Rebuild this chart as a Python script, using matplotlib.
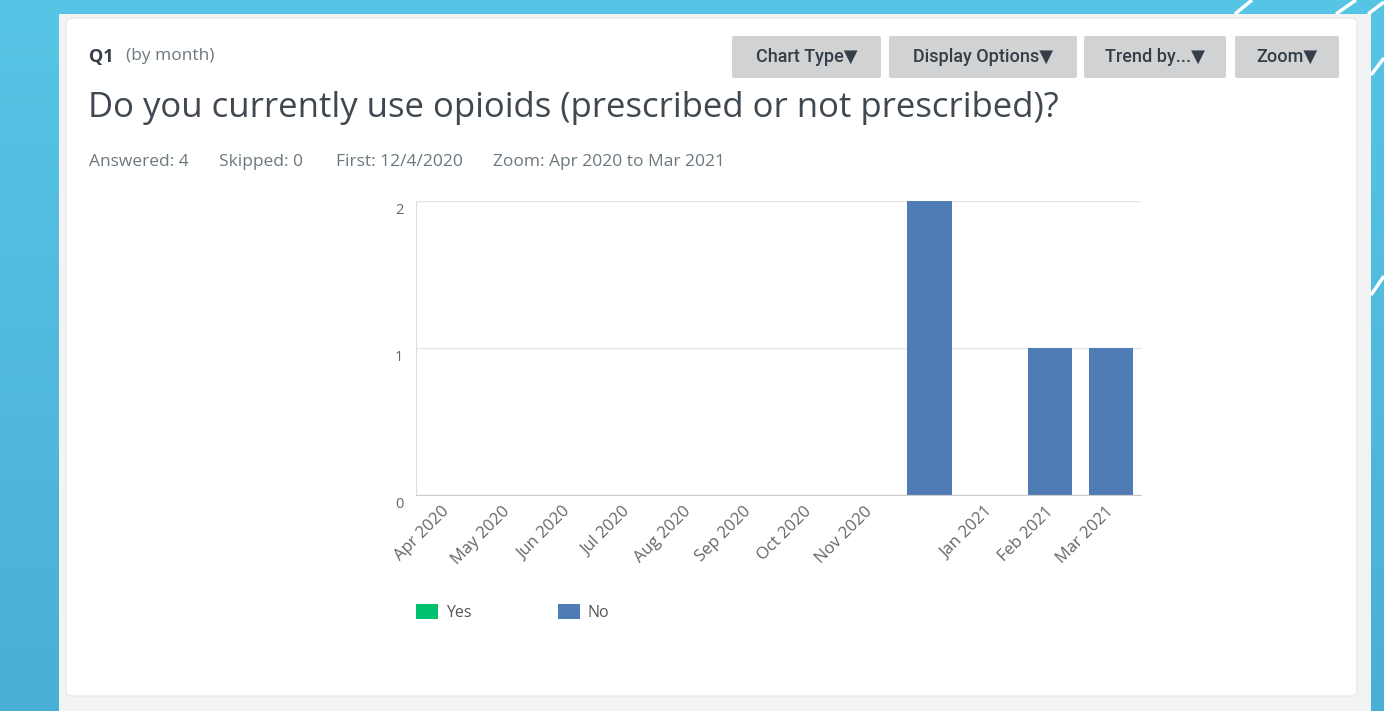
import numpy as np
import matplotlib.pyplot as plt
from matplotlib.patches import FancyBboxPatch, Rectangle, Patch
from matplotlib.transforms import ScaledTranslation

# Data
months = ['Apr 2020', 'May 2020', 'Jun 2020', 'Jul 2020', 'Aug 2020', 'Sep 2020',
          'Oct 2020', 'Nov 2020', 'Dec 2020', 'Jan 2021', 'Feb 2021', 'Mar 2021']
tick_labels = ['Apr 2020', 'May 2020', 'Jun 2020', 'Jul 2020', 'Aug 2020', 'Sep 2020',
               'Oct 2020', 'Nov 2020', '', 'Jan 2021', 'Feb 2021', 'Mar 2021']
yes_counts = [0, 0, 0, 0, 0, 0, 0, 0, 0, 0, 0, 0]
no_counts = [0, 0, 0, 0, 0, 0, 0, 0, 2, 0, 1, 1]
series_names = ['Yes', 'No']
series_colors = ['#00bf6f', '#507cb6']
buttons = ['Chart Type', 'Display Options', 'Trend by...', 'Zoom']

W, H = 1384, 711
fig = plt.figure(figsize=(W / 100, H / 100), dpi=100)
fig.patch.set_facecolor('#55c3e3')

# page background, drawn in pixel coordinates
bg = fig.add_axes([0, 0, 1, 1], zorder=-1)
bg.set_xlim(0, W)
bg.set_ylim(H, 0)
bg.axis('off')
grad = np.linspace(0, 1, 256).reshape(-1, 1)
bg.imshow(grad, extent=(0, W, H, 0), aspect='auto',
          cmap=plt.matplotlib.colors.LinearSegmentedColormap.from_list('bgc', ['#57c5e5', '#4aafd6']))
for (x0, y0, x1, y1) in [(1235, 14, 1252, 0), (1336, 14, 1356, 0), (1368, 14, 1384, 2),
                         (1371, 75, 1384, 58), (1371, 295, 1384, 276)]:
    bg.plot([x0, x1], [y0, y1], color='white', lw=2.5, solid_capstyle='butt')
bg.add_patch(Rectangle((59, 14), 1312, 700, facecolor='#f2f3f3', edgecolor='none'))
bg.add_patch(FancyBboxPatch((66, 18), 1291, 678, boxstyle='round,pad=0,rounding_size=6',
                            facecolor='white', edgecolor='#e9eaea', lw=1))

# header
dark = '#333e48'
grey = '#6b787f'
font = 'Open Sans'
bg.text(89, 57, 'Q1', fontsize=13, fontweight='bold', color=dark, family=font, va='center')
bg.text(126, 56, '(by month)', fontsize=12.5, color=grey, family=font, va='center')
bg.text(88, 108, 'Do you currently use opioids (prescribed or not prescribed)?',
        fontsize=25, color='#3f4850', family=font, va='center')
for x, s in [(89, 'Answered: 4'), (219, 'Skipped: 0'), (336, 'First: 12/4/2020'),
             (493, 'Zoom: Apr 2020 to Mar 2021')]:
    bg.text(x, 162, s, fontsize=12.5, color=grey, family=font, va='center')

# buttons
for (x0, x1), label in zip([(732, 881), (889, 1077), (1084, 1226), (1235, 1339)], buttons):
    bg.add_patch(FancyBboxPatch((x0, 36), x1 - x0, 42, boxstyle='round,pad=0,rounding_size=2',
                                facecolor='#d1d2d4', edgecolor='none'))
    bg.text((x0 + x1) / 2, 57, label + '\u25BC', fontsize=13, color=dark, fontweight='medium',
            family=['Roboto', 'DejaVu Sans'], ha='center', va='center')

# chart
ax = fig.add_axes([416 / W, (H - 495) / H, 725 / W, 294 / H])
x = np.arange(len(months))
ax.bar(x, yes_counts, width=0.73, color=series_colors[0], label=series_names[0])
ax.bar(x, no_counts, bottom=yes_counts, width=0.73, color=series_colors[1], label=series_names[1])
ax.set_xlim(-0.5, len(months) - 0.5)
ax.set_ylim(0, 2)
ax.set_yticks([0, 1, 2])
ax.yaxis.grid(True, color='#e6e6e6', lw=1)
ax.set_axisbelow(True)
for s in ['top', 'right']:
    ax.spines[s].set_visible(False)
ax.spines['left'].set_color('#dddddd')
ax.spines['bottom'].set_color('#cccccc')
ax.tick_params(axis='both', length=0, colors='#666666', labelsize=10.5)
ax.tick_params(axis='y', pad=9)
ax.set_xticks(x)
ax.set_xticklabels(tick_labels, rotation=45, ha='right', va='top',
                   rotation_mode='anchor', family=font, fontsize=12)
ax.tick_params(axis='x', pad=6)
for t in ax.get_xticklabels():
    t.set_transform(t.get_transform() + ScaledTranslation(-5 / 100, 0, fig.dpi_scale_trans))
for t in ax.get_yticklabels():
    t.set_family(font)
    t.set_verticalalignment('top')
    t.set_transform(t.get_transform() + ScaledTranslation(0, -2 / 100, fig.dpi_scale_trans))

handles = [Patch(facecolor=c, edgecolor='none') for c in series_colors]
fig.legend(handles, series_names, loc='upper left', bbox_to_anchor=(416 / W, 1 - 604 / H),
           ncol=2, frameon=False, prop={'family': font, 'size': 11.5},
           handlelength=1.38, handleheight=1.06, handletextpad=0.5, columnspacing=5.4,
           borderpad=0, borderaxespad=0, labelcolor='#555555')

fig.savefig('out.png', dpi=100, facecolor=fig.get_facecolor())
